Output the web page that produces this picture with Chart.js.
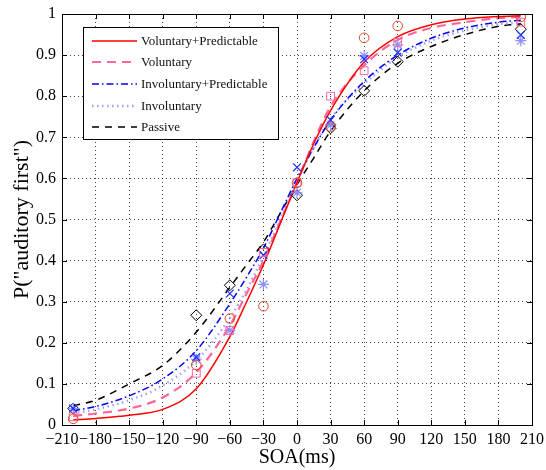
<!DOCTYPE html>
<html>
<head>
<meta charset="utf-8">
<script src="https://cdn.jsdelivr.net/npm/chart.js@4.4.1/dist/chart.umd.min.js"></script>
<style>
html, body { margin: 0; padding: 0; background: #fff; }
</style>
</head>
<body>
<canvas id="chrt" width="546" height="470"></canvas>
<script>
// measured points (SOA in ms)
const soa = [-200, -90, -60, -30, 0, 30, 60, 90, 200];
const volPredPts = [0.015, 0.146, 0.259, 0.289, 0.589, 0.726, 0.942, 0.971, 0.993];
const volPts = [0.02, 0.126, 0.23, 0.42, 0.59, 0.80, 0.862, 0.931, 0.98];
const invPredPts = [0.04, 0.165, 0.32, 0.413, 0.627, 0.742, 0.89, 0.906, 0.949];
const invPts = [0.04, 0.16, 0.23, 0.342, 0.565, 0.73, 0.898, 0.925, 0.935];
const passivePts = [0.04, 0.267, 0.34, 0.427, 0.559, 0.722, 0.813, 0.884, 0.963];

// fitted curves
const fitX = [-200, -180, -150, -120, -90, -60, -45, -30, -15, 0, 15, 30, 60, 90, 120, 150, 180, 200];
const volPredFit = [0.012, 0.016, 0.024, 0.038, 0.088, 0.215, 0.30, 0.39, 0.49, 0.59, 0.685, 0.765, 0.883, 0.945, 0.974, 0.988, 0.994, 0.996];
const volFit = [0.022, 0.028, 0.04, 0.067, 0.128, 0.242, 0.32, 0.40, 0.495, 0.59, 0.69, 0.775, 0.875, 0.937, 0.966, 0.98, 0.99, 0.993];
const invPredFit = [0.035, 0.045, 0.071, 0.112, 0.181, 0.295, 0.36, 0.43, 0.515, 0.60, 0.675, 0.742, 0.836, 0.90, 0.941, 0.966, 0.98, 0.985];
const invFit = [0.028, 0.038, 0.06, 0.096, 0.157, 0.26, 0.33, 0.41, 0.50, 0.595, 0.675, 0.745, 0.83, 0.895, 0.935, 0.96, 0.975, 0.98];
const passiveFit = [0.047, 0.06, 0.10, 0.145, 0.226, 0.335, 0.39, 0.445, 0.515, 0.585, 0.65, 0.715, 0.813, 0.88, 0.921, 0.95, 0.97, 0.976];

const labels = ['Voluntary+Predictable', 'Voluntary', 'Involuntary+Predictable', 'Involuntary', 'Passive'];
const xTicks = [-210, -180, -150, -120, -90, -60, -30, 0, 30, 60, 90, 120, 150, 180, 210];

const serif = 'Liberation Serif';

function pts(xs, ys) {
    return xs.map((x, i) => ({x: x, y: ys[i]}));
}

function curve(label, ys, color, dash, width) {
    return {
        type: 'line',
        label: label,
        data: pts(fitX, ys),
        borderColor: color,
        borderDash: dash,
        borderWidth: width,
        pointRadius: 0,
        fill: false,
        cubicInterpolationMode: 'monotone',
        order: 1
    };
}

function marks(ys, style, color, radius, width) {
    return {
        type: 'scatter',
        label: '',
        data: pts(soa, ys),
        pointStyle: style,
        pointRadius: radius,
        borderColor: color,
        backgroundColor: 'rgba(0,0,0,0)',
        pointBorderWidth: width,
        showLine: false,
        order: 0
    };
}

let curves = [
    curve(labels[0], volPredFit, '#ff0000', [], 1.5),
    curve(labels[1], volFit, '#ff6699', [9, 6], 2.2),
    curve(labels[2], invPredFit, '#0000ff', [7, 3, 1.5, 3], 1.5),
    curve(labels[3], invFit, '#a0a0ff', [1.5, 3.5], 2.5),
    curve(labels[4], passiveFit, '#000000', [7, 6], 1.5)
];

let markers = [
    marks(volPredPts, 'circle', '#e04a2a', 4.8, 1),
    marks(volPts, 'rect', '#ff6699', 5.5, 1),
    marks(invPredPts, 'crossRot', '#2233ff', 5.5, 1.3),
    marks(invPts, 'star', '#8c8cff', 5.5, 1.2),
    marks(passivePts, 'rectRot', '#000000', 5.5, 1)
];

// box round the axes, inward ticks and the legend, MATLAB style
const frame = {
    id: 'frame',
    afterDraw(chart) {
        let ctx = chart.ctx;
        let a = chart.chartArea;
        let xs = chart.scales.x, ys = chart.scales.y;
        ctx.save();
        ctx.strokeStyle = '#000';
        ctx.lineWidth = 1;
        ctx.strokeRect(Math.round(a.left) + 0.5, Math.round(a.top) + 0.5, Math.round(a.right - a.left), Math.round(a.bottom - a.top));
        ctx.beginPath();
        xTicks.forEach(v => {
            let px = Math.round(xs.getPixelForValue(v)) + 0.5;
            ctx.moveTo(px, a.bottom); ctx.lineTo(px, a.bottom - 5);
            ctx.moveTo(px, a.top); ctx.lineTo(px, a.top + 5);
        });
        for (let i = 0; i <= 10; i++) {
            let py = Math.round(ys.getPixelForValue(i / 10)) + 0.5;
            ctx.moveTo(a.left, py); ctx.lineTo(a.left + 5, py);
            ctx.moveTo(a.right, py); ctx.lineTo(a.right - 5, py);
        }
        ctx.stroke();

        // legend
        let bx = 83, by = 27, bw = 195, bh = 112;
        ctx.fillStyle = '#fff';
        ctx.fillRect(bx, by, bw, bh);
        ctx.strokeRect(bx + 0.5, by + 0.5, bw, bh);
        let rows = [41, 62, 84, 106, 127];
        ctx.font = '13px "' + serif + '"';
        ctx.textBaseline = 'middle';
        curves.forEach((ds, i) => {
            ctx.beginPath();
            ctx.strokeStyle = ds.borderColor;
            ctx.lineWidth = ds.borderWidth;
            ctx.setLineDash(ds.borderDash);
            ctx.moveTo(92, rows[i]);
            ctx.lineTo(137, rows[i]);
            ctx.stroke();
            ctx.setLineDash([]);
            ctx.fillStyle = '#111';
            ctx.fillText(ds.label, 141, rows[i] + 1);
        });
        ctx.restore();
    }
};

new Chart(document.getElementById('chrt').getContext('2d'), {
    data: {datasets: curves.concat(markers)},
    options: {
        responsive: false,
        animation: false,
        layout: {padding: {top: 14, right: 14, left: 0, bottom: 0}},
        plugins: {legend: {display: false}, tooltip: {enabled: false}},
        scales: {
            x: {
                type: 'linear',
                min: -210,
                max: 210,
                afterBuildTicks: s => { s.ticks = xTicks.map(v => ({value: v})); },
                afterFit: s => { s.height = 45; s.paddingLeft = 0; s.paddingRight = 0; },
                grid: {color: 'rgba(0,0,0,0.75)', borderDash: [1, 3], drawTicks: false, lineWidth: 1},
                border: {display: false, dash: [1, 3]},
                ticks: {
                    autoSkip: false, maxRotation: 0, padding: 5, color: '#000',
                    font: {family: serif, size: 16},
                    callback: v => String(v).replace('-', '\u2212')
                },
                title: {display: true, text: 'SOA(ms)', color: '#000', font: {family: serif, size: 20}, padding: {top: 0, bottom: 0}}
            },
            y: {
                type: 'linear',
                min: 0,
                max: 1,
                ticks: {
                    stepSize: 0.1, padding: 6, color: '#000',
                    font: {family: serif, size: 16},
                    callback: v => String(+v.toFixed(1))
                },
                afterFit: s => { s.width = 62; s.paddingTop = 0; s.paddingBottom = 0; },
                grid: {color: 'rgba(0,0,0,0.75)', borderDash: [1, 3], drawTicks: false, lineWidth: 1},
                border: {display: false, dash: [1, 3]},
                title: {display: true, text: 'P("auditory first")', color: '#000', font: {family: serif, size: 22}, padding: {top: 9, bottom: 0}}
            }
        }
    },
    plugins: [frame]
});
</script>
</body>
</html>
